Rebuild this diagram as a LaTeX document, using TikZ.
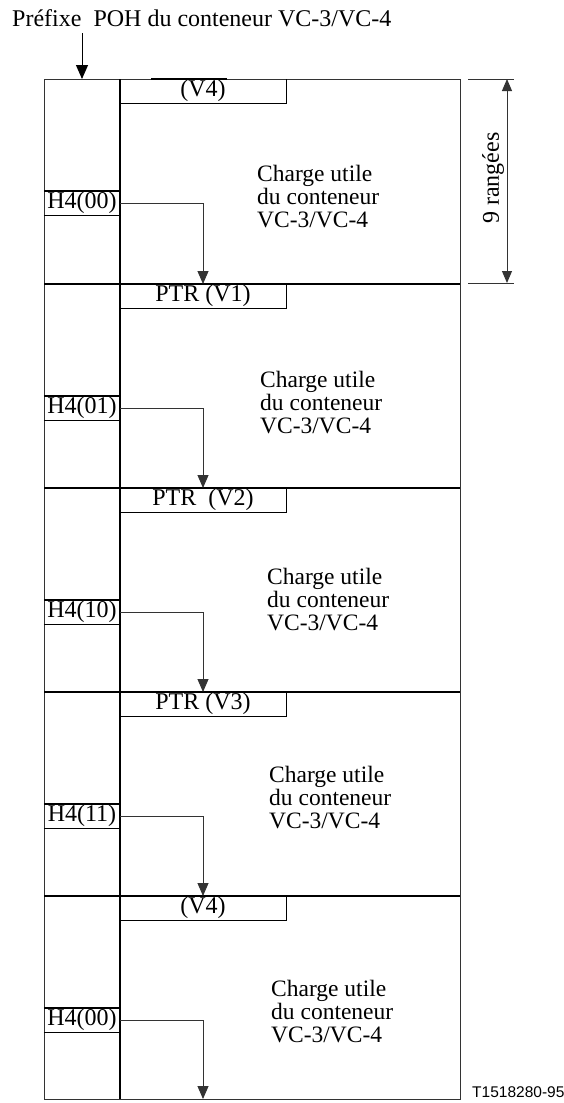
\documentclass[tikz,border=0pt]{standalone}
\usepackage{fontspec}
\setmainfont{Liberation Serif}
\setsansfont{Liberation Sans}
\usetikzlibrary{arrows.meta}
\begin{document}
\begin{tikzpicture}[x=1pt,y=-1pt,
  thinline/.style={line width=1pt, draw=black!80},
  thickline/.style={line width=2pt, draw=black},
  boxline/.style={line width=1.4pt, draw=black},
  lbl/.style={font=\fontsize{24}{23}\selectfont, inner sep=0pt},
  body/.style={font=\fontsize{23.5}{23}\selectfont, inner sep=0pt, align=left},
  cellbox/.style={lbl, minimum height=24pt},
  arr/.style={line width=1pt, draw=black!80, -{Triangle[length=13pt,width=11pt]}},
  dimarr/.style={line width=1pt, draw=black!80, {Triangle[length=12pt,width=10pt]}-{Triangle[length=12pt,width=10pt]}}
]
\useasboundingbox (0,0) rectangle (563,1103);

% title and its arrow
\node[lbl, anchor=base west] (title) at (12,26) {Préfixe\ \ POH du conteneur VC-3/VC-4};
\coordinate (ta) at (82,33);
\coordinate (tb) at (82,79);
\draw[line width=1pt, -{Triangle[length=14pt,width=12pt]}] (ta) -- (tb);

% outer frame and column divider
\draw[thinline] (44,79) rectangle (460,1099);
\draw[thickline] (151,79) -- (227,79);
\draw[thickline] (120,79) -- (120,1099);
\foreach \fy in {284,488,692,896}{
  \draw[thickline] (44,\fy) -- (460,\fy);
}

% frames
\foreach \i/\ft/\fn/\p/\h/\tx/\ty in {
  0/79/284/(V4)/H4(00)/257/197,
  1/284/488/PTR (V1)/H4(01)/260/403,
  2/488/692/PTR\ \ (V2)/H4(10)/267/600,
  3/692/896/PTR (V3)/H4(11)/269/798,
  4/896/1099/(V4)/H4(00)/271/1012}{
  \node[cellbox, minimum width=166pt] (p\i) at (203,\ft+12) {\p};
  \draw[boxline] (p\i.south west) -| (p\i.north east);
  \node[cellbox, minimum width=76pt] (h\i) at (82,\ft+124) {\h};
  \draw[boxline] (h\i.north west) -- (h\i.north east);
  \draw[boxline] (h\i.south west) -- (h\i.south east);
  \coordinate (e\i) at (203,\fn);
  \draw[arr] (h\i.east) -| (e\i);
  \node[body, anchor=west] (c\i) at (\tx,\ty) {Charge utile\\du conteneur\\VC-3/VC-4};
}

% dimension
\coordinate (x1a) at (468,79);
\coordinate (x1b) at (514,79);
\coordinate (x2a) at (468,283);
\coordinate (x2b) at (514,283);
\draw[thinline] (x1a) -- (x1b);
\draw[thinline] (x2a) -- (x2b);
\coordinate (d1) at (507,79);
\coordinate (d2) at (507,283);
\draw[dimarr] (d1) -- (d2);
\node[lbl, rotate=90] (dim) at (493,178) {9 rangées};

% reference
\node[font=\sffamily\fontsize{15.5}{15.5}\selectfont, anchor=base west, inner sep=0pt] (ref) at (472,1097) {T1518280-95};
\end{tikzpicture}
\end{document}
